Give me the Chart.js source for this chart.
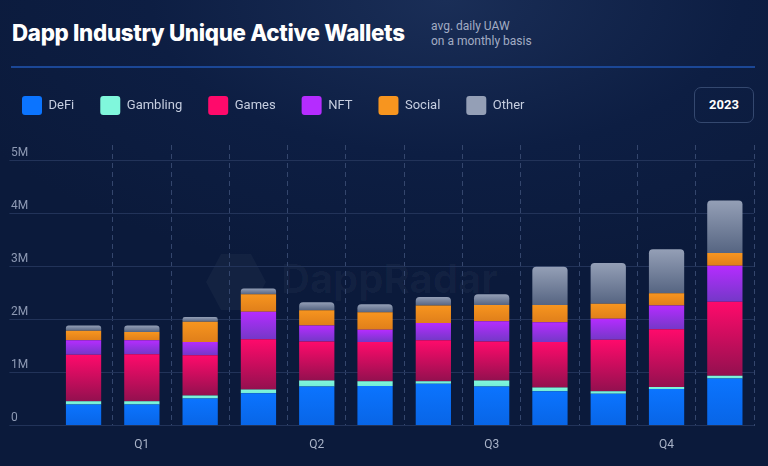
<!DOCTYPE html>
<html lang="en">
<head>
    <meta charset="UTF-8">
    <title>Dapp Industry Unique Active Wallets</title>
    <script src="https://cdn.jsdelivr.net/npm/chart.js@4.4.1/dist/chart.umd.min.js"></script>
    <style>
        html, body { margin: 0; padding: 0; }
        body {
            width: 768px; height: 466px; overflow: hidden; position: relative;
            background: radial-gradient(ellipse 70% 60% at 58% 0%, #1a2e57 0%, #0d1e43 55%, #0b1a3b 100%);
            font-family: Roboto, "Noto Sans", sans-serif;
        }
        #title {
            position: absolute; left: 12px; top: 19px;
            font-family: Inter, sans-serif; font-weight: 800; font-size: 22.3px;
            letter-spacing: -0.3px; color: #ffffff; line-height: 28px;
        }
        #subtitle {
            position: absolute; left: 431px; top: 19px;
            font-size: 12px; line-height: 15px; color: #a3adc4;
        }
        #rule {
            position: absolute; left: 11px; top: 66px; width: 744px; height: 2px;
            background: #1b4796;
        }
        #year {
            position: absolute; left: 694px; top: 87px; width: 58px; height: 34px;
            border: 1px solid #34486f; border-radius: 7px;
            color: #ffffff; font-weight: 700; font-size: 13px;
            line-height: 34px; text-align: center;
        }
        #mark {
            position: absolute; left: 205px; top: 252px;
            font-family: Inter, sans-serif; font-weight: 700; font-size: 40px;
            color: rgba(255,255,255,0.035); white-space: nowrap;
        }
        #mark svg { vertical-align: middle; margin-right: 14px; }
        #wrap { position: absolute; left: -4px; top: 0; }
    </style>
</head>
<body>

<div id="title">Dapp Industry Unique Active Wallets</div>
<div id="subtitle">avg. daily UAW<br>on a monthly basis</div>
<div id="rule"></div>
<div id="year">2023</div>
<div id="mark"><svg width="62" height="60" viewBox="0 0 62 60"><polygon points="16,2 46,2 61,30 46,58 16,58 1,30" fill="rgba(255,255,255,0.035)"/></svg>DappRadar</div>

<div id="wrap"><canvas id="uaw-chart" width="772" height="466"></canvas></div>

<script>
    // avg daily unique active wallets, millions, Jan..Dec 2023
    const months = ['Jan', 'Feb', 'Mar', 'Apr', 'May', 'Jun', 'Jul', 'Aug', 'Sep', 'Oct', 'Nov', 'Dec'];
    const quarterLabels = ['', 'Q1', '', '', 'Q2', '', '', 'Q3', '', '', 'Q4', ''];
    const yTicks = ['0', '1M', '2M', '3M', '4M', '5M'];

    const defi     = [0.40, 0.40, 0.51, 0.61, 0.74, 0.75, 0.79, 0.74, 0.65, 0.60, 0.69, 0.89];
    const gambling = [0.06, 0.06, 0.06, 0.07, 0.11, 0.09, 0.05, 0.11, 0.07, 0.05, 0.04, 0.05];
    const games    = [0.88, 0.89, 0.76, 0.95, 0.74, 0.74, 0.77, 0.74, 0.86, 0.97, 1.09, 1.40];
    const nft      = [0.27, 0.26, 0.25, 0.52, 0.30, 0.23, 0.33, 0.38, 0.37, 0.40, 0.45, 0.68];
    const social   = [0.18, 0.16, 0.38, 0.33, 0.29, 0.33, 0.33, 0.31, 0.33, 0.28, 0.23, 0.24];
    const other    = [0.10, 0.12, 0.09, 0.11, 0.15, 0.15, 0.16, 0.20, 0.72, 0.77, 0.83, 0.99];

    const series = [
        {name: 'DeFi', values: defi, top: '#0b74ff', bottom: '#0865e6'},
        {name: 'Gambling', values: gambling, top: '#80f7dc', bottom: '#74eed6'},
        {name: 'Games', values: games, top: '#ff0a6b', bottom: '#93104f'},
        {name: 'NFT', values: nft, top: '#b52cff', bottom: '#7438c8'},
        {name: 'Social', values: social, top: '#f7951f', bottom: '#e07f1a'},
        {name: 'Other', values: other, top: '#949fb6', bottom: '#566582'}
    ];

    function segmentFill(si) {
        const s = series[si];
        return function (ctx) {
            if (ctx.type !== 'data' || ctx.dataIndex === undefined) return s.top;
            const chart = ctx.chart;
            const y = chart.scales.y;
            if (!chart.chartArea || !y) return s.top;
            let base = 0;
            for (let k = 0; k < si; k++) base += series[k].values[ctx.dataIndex];
            const topVal = base + s.values[ctx.dataIndex];
            const y0 = y.getPixelForValue(topVal);
            const y1 = y.getPixelForValue(base);
            if (!isFinite(y0) || !isFinite(y1) || y1 - y0 < 1) return s.top;
            const g = chart.ctx.createLinearGradient(0, y0, 0, y1);
            g.addColorStop(0, s.top);
            g.addColorStop(1, s.bottom);
            return g;
        };
    }

    const datasets = series.map((s, i) => ({
        label: s.name,
        data: s.values,
        backgroundColor: segmentFill(i),
        borderWidth: 0,
        borderRadius: i === series.length - 1 ? 4 : 0,
        borderSkipped: 'start',
        barPercentage: 0.605,
        categoryPercentage: 1
    }));

    // pushes the plot down below the legend row
    const legendGap = {
        id: 'legendGap',
        beforeInit(chart) {
            const fit = chart.legend.fit;
            chart.legend.fit = function () {
                fit.bind(chart.legend)();
                this.height += 20;
            };
        }
    };

    new Chart('uaw-chart', {
        type: 'bar',
        data: {labels: months, datasets: datasets},
        plugins: [legendGap],
        options: {
            responsive: false,
            animation: false,
            layout: {padding: {top: 70, left: 0, right: 14, bottom: 2}},
            plugins: {
                tooltip: {enabled: false},
                legend: {
                    align: 'start',
                    labels: {
                        boxWidth: 20,
                        boxHeight: 19,
                        padding: 26,
                        useBorderRadius: true,
                        borderRadius: 3,
                        color: '#c6cee0',
                        font: {family: 'Roboto', size: 13}
                    }
                }
            },
            scales: {
                x: {
                    stacked: true,
                    grid: {
                        offset: true,
                        drawTicks: false,
                        color: ctx => ctx.index === 0 ? 'rgba(0,0,0,0)' : '#34466d',
                        lineWidth: 1
                    },
                    border: {display: false, dash: [5, 4]},
                    ticks: {
                        padding: 12,
                        color: '#a9b3c8',
                        font: {family: 'Roboto', size: 12},
                        maxRotation: 0,
                        autoSkip: false,
                        callback: (v, i) => quarterLabels[i]
                    }
                },
                y: {
                    stacked: true,
                    min: 0,
                    max: 5.3,
                    afterFit: scale => { scale.width = 58.4; },
                    border: {display: false},
                    grid: {color: '#223359', lineWidth: 1, tickLength: 45},
                    ticks: {
                        stepSize: 1,
                        includeBounds: false,
                        mirror: true,
                        padding: -43.4,
                        labelOffset: -8,
                        color: '#8e9ab4',
                        font: {family: 'Roboto', size: 12},
                        callback: v => yTicks[Math.round(v)]
                    }
                }
            }
        }
    });
</script>

</body>
</html>
